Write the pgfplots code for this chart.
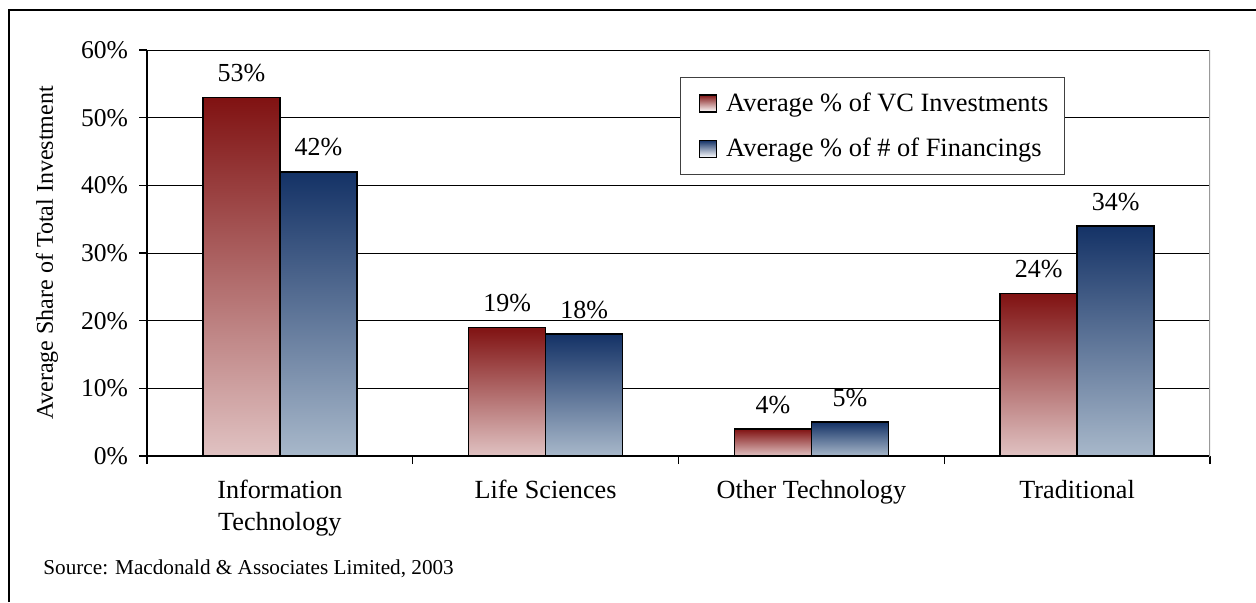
\documentclass[border=0pt]{standalone}
\usepackage{fontspec}
\setmainfont{Liberation Serif}
\usepackage{pgfplots}
\pgfplotsset{compat=1.18}
\definecolor{redtop}{RGB}{128,18,18}
\definecolor{redbot}{RGB}{224,194,194}
\definecolor{bluetop}{RGB}{20,50,102}
\definecolor{bluebot}{RGB}{168,184,202}
\pgfplotsset{
  redbar/.style={draw=black, line width=0.85pt, top color=redtop, bottom color=redbot, bar shift=-19.25pt},
  bluebar/.style={draw=black, line width=0.85pt, top color=bluetop, bottom color=bluebot, bar shift=19.25pt},
}
\begin{document}
\begin{tikzpicture}
\useasboundingbox (0,0) rectangle (628pt,301pt);
\draw[line width=1.4pt] (4.5pt,0) -- (4.5pt,296pt) -- (628pt,296pt);
\begin{axis}[
  at={(73.5pt,73pt)}, anchor=south west,
  width=531.5pt, height=203pt, scale only axis,
  ybar, bar width=38.5pt,
  xmin=-0.5, xmax=3.5, ymin=0, ymax=60,
  ytick={0,10,...,60},
  yticklabel={\pgfmathprintnumber{\tick}\%},
  /pgf/number format/assume math mode=true,
  xtick={-0.5,0.5,1.5,2.5,3.5},
  xticklabels={},
  extra x ticks={0,1,2,3},
  extra x tick labels={{Information\\Technology},{Life Sciences},{Other Technology},{Traditional}},
  extra x tick style={major tick length=0pt, xticklabel style={align=center, yshift=-8.5pt, font=\fontsize{13.1}{16}\selectfont}},
  tick align=outside,
  major tick length=4pt,
  tick style={black, line width=0.6pt},
  xtick pos=bottom, ytick pos=left,
  axis x line*=bottom, axis y line*=left,
  axis line style={-, line width=0.8pt, black},
  ymajorgrids, grid style={black, line width=0.5pt},
  yticklabel style={font=\fontsize{12.8}{15}\selectfont, xshift=-2pt},
  ylabel={Average Share of Total Investment},
  every axis y label/.style={at={(axis description cs:-0.0941,0.5)}, rotate=90, anchor=center, font=\fontsize{12}{14}\selectfont},
  nodes near coords={\pgfmathprintnumber{\pgfplotspointmeta}\%},
  every node near coord/.append style={font=\fontsize{13}{15}\selectfont, anchor=south, yshift=4pt, black},
  legend style={at={(0.5014,0.9335)}, anchor=north west, draw=black!75, line width=0.5pt,
    font=\fontsize{13.2}{15}\selectfont, row sep=8pt, inner xsep=6pt, inner ysep=5.5pt},
  legend cell align=left,
  legend image code/.code={\path (0pt,0pt) (14pt,0pt); \draw[#1, bottom color=white, line width=0.75pt] (3pt,-4.25pt) rectangle (11.5pt,4.25pt);},
]
\addplot[redbar] coordinates {(0,53)};
\addlegendentry{Average \% of VC Investments}
\addplot[bluebar] coordinates {(0,42)};
\addlegendentry{Average \% of \# of Financings}
\addplot[redbar, forget plot] coordinates {(1,19)};
\addplot[redbar, forget plot] coordinates {(2,4)};
\addplot[redbar, forget plot] coordinates {(3,24)};
\addplot[bluebar, forget plot] coordinates {(1,18)};
\addplot[bluebar, forget plot] coordinates {(2,5)};
\addplot[bluebar, forget plot] coordinates {(3,34)};
\draw[gray!80, line width=0.8pt] ([yshift=-4pt]rel axis cs:1,0) -- (rel axis cs:1,1);
\end{axis}
\node[anchor=base west, font=\fontsize{10.6}{12}\selectfont, inner sep=0pt] at (21.5pt,301pt-287pt) {Source: Macdonald \& Associates Limited, 2003};
\end{tikzpicture}
\end{document}
